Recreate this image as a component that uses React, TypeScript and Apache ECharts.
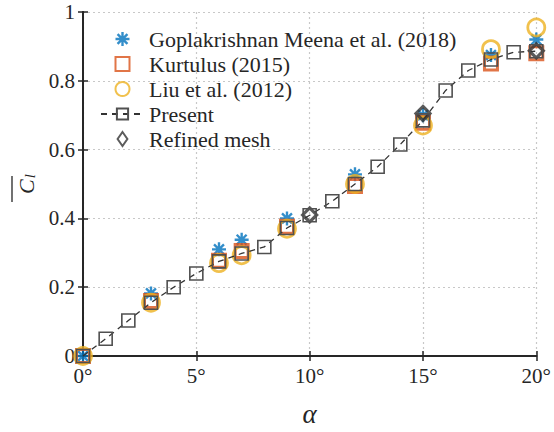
import React, { useEffect, useRef } from "react";
import * as echarts from "echarts";

// Angle of attack (degrees) for the present simulations
const presentAlpha = [0, 1, 2, 3, 4, 5, 6, 7, 8, 9, 10, 11, 12, 13, 14, 15, 16, 17, 18, 19, 20];
const presentCl = [0, 0.05, 0.103, 0.155, 0.2, 0.24, 0.275, 0.298, 0.317, 0.372, 0.409, 0.45, 0.5, 0.55, 0.615, 0.685, 0.772, 0.83, 0.862, 0.883, 0.886];

// Reference data sets
const refAlpha = [0, 3, 6, 7, 9, 12, 15, 18, 20];
const meenaCl = [0, 0.182, 0.31, 0.338, 0.4, 0.528, 0.7, 0.875, 0.92];
const kurtulusCl = [0, 0.16, 0.277, 0.305, 0.376, 0.494, 0.678, 0.85, 0.88];
const liuCl = [0, 0.155, 0.27, 0.293, 0.37, 0.5, 0.67, 0.892, 0.955];

// Refined-mesh check points
const refinedAlpha = [10, 15, 20];
const refinedCl = [0.41, 0.705, 0.887];

const xTicks = [0, 5, 10, 15, 20];

const FONT = "Liberation Serif";
const INK = "#262626";

// Eight-spoke asterisk marker built from four overlapping bars
function asteriskPath(): string {
  const L = 10;
  const W = 1.7;
  let d = "";
  for (const deg of [0, 45, 90, 135]) {
    const a = (deg * Math.PI) / 180;
    const c = Math.cos(a);
    const s = Math.sin(a);
    const pts = [
      [-L, -W],
      [L, -W],
      [L, W],
      [-L, W],
    ].map(([x, y]) => [x * c - y * s, x * s + y * c]);
    d += "M" + pts.map((p) => p[0].toFixed(2) + " " + p[1].toFixed(2)).join(" L") + " Z ";
  }
  return "path://" + d.trim();
}

const squarePath = "path://M-10 -10 L10 -10 L10 10 L-10 10 Z";
const diamondPath = "path://M0 -10 L7 0 L0 10 L-7 0 Z";

const pairs = (xs: number[], ys: number[]) => xs.map((x, i) => [x, ys[i]]);

export default function App() {
  const ref = useRef<HTMLDivElement>(null);

  useEffect(() => {
    if (!ref.current) return;
    const chart = echarts.init(ref.current, undefined, { renderer: "svg" });

    const boxAxisLine = { show: true, lineStyle: { color: INK, width: 2 } };
    const innerTicks = { show: true, inside: true, length: 5, lineStyle: { color: INK, width: 1.5 } };
    const dotted = { show: true, lineStyle: { color: "#c8c8c8", type: [2, 3], width: 1.2 } };

    chart.setOption({
      animation: false,
      backgroundColor: "#ffffff",
      grid: { left: 83, right: 15, top: 12, bottom: 68, containLabel: false },
      legend: {
        orient: "vertical",
        left: 95,
        top: 23,
        itemWidth: 43,
        itemHeight: 14,
        itemGap: 3,
        textStyle: { fontFamily: FONT, fontSize: 22, color: INK, lineHeight: 22 },
      },
      xAxis: [
        {
          type: "value",
          min: 0,
          max: 20,
          interval: 5,
          position: "bottom",
          axisLine: boxAxisLine,
          axisTick: innerTicks,
          splitLine: dotted,
          axisLabel: {
            formatter: (v: number) => (xTicks.includes(v) ? v + "°" : ""),
            fontFamily: FONT,
            fontSize: 21,
            color: INK,
            margin: 9,
          },
          name: "α",
          nameLocation: "middle",
          nameGap: 44,
          nameTextStyle: { fontFamily: FONT, fontSize: 27, fontStyle: "italic", color: INK },
        },
        {
          type: "value",
          min: 0,
          max: 20,
          interval: 5,
          position: "top",
          axisLine: boxAxisLine,
          axisTick: innerTicks,
          axisLabel: { show: false },
          splitLine: { show: false },
        },
      ],
      yAxis: [
        {
          type: "value",
          min: 0,
          max: 1,
          interval: 0.2,
          position: "left",
          axisLine: boxAxisLine,
          axisTick: innerTicks,
          splitLine: dotted,
          axisLabel: { fontFamily: FONT, fontSize: 21, color: INK, margin: 8 },
          name: "{c|C}{s|l}",
          nameLocation: "middle",
          nameRotate: 90,
          nameGap: 45,
          nameTextStyle: {
            fontFamily: FONT,
            color: INK,
            rich: {
              c: { fontFamily: FONT, fontSize: 22, fontStyle: "italic", color: INK, lineHeight: 24, verticalAlign: "bottom" },
              s: { fontFamily: FONT, fontSize: 15, fontStyle: "italic", color: INK, lineHeight: 24, verticalAlign: "bottom", padding: [8, 0, 0, 1] },
            },
          },
        },
        {
          type: "value",
          min: 0,
          max: 1,
          interval: 0.2,
          position: "right",
          axisLine: boxAxisLine,
          axisTick: innerTicks,
          axisLabel: { show: false },
          splitLine: { show: false },
        },
      ],
      graphic: [
        {
          type: "line",
          shape: { x1: 12, y1: 176, x2: 12, y2: 202 },
          style: { stroke: INK, lineWidth: 1.3 },
        },
      ],
      series: [
        {
          name: "Goplakrishnan Meena et al. (2018)",
          type: "scatter",
          clip: false,
          symbol: asteriskPath(),
          symbolSize: 14,
          itemStyle: { color: "#0072BD" },
          data: pairs(refAlpha, meenaCl),
        },
        {
          name: "Kurtulus (2015)",
          type: "scatter",
          clip: false,
          symbol: squarePath,
          symbolSize: 13,
          itemStyle: { color: "rgba(0,0,0,0)", borderColor: "#D95319", borderWidth: 3 },
          data: pairs(refAlpha, kurtulusCl),
        },
        {
          name: "Liu et al. (2012)",
          type: "scatter",
          clip: false,
          symbol: "circle",
          symbolSize: 17,
          itemStyle: { color: "rgba(0,0,0,0)", borderColor: "#EDB120", borderWidth: 2.8 },
          data: pairs(refAlpha, liuCl),
        },
        {
          name: "Present",
          type: "line",
          clip: false,
          symbol: "rect",
          symbolSize: 13,
          showAllSymbol: true,
          lineStyle: { color: "#333333", width: 1.3, type: [6, 5] },
          itemStyle: { color: "rgba(0,0,0,0)", borderColor: "#505050", borderWidth: 1.6 },
          data: pairs(presentAlpha, presentCl),
        },
        {
          name: "Refined mesh",
          type: "scatter",
          clip: false,
          symbol: diamondPath,
          symbolSize: 14,
          itemStyle: { color: "rgba(0,0,0,0)", borderColor: "#333333", borderWidth: 3.2 },
          data: pairs(refinedAlpha, refinedCl),
        },
      ],
    });

    return () => chart.dispose();
  }, []);

  return <div ref={ref} style={{ width: 554, height: 432, position: "absolute", left: 0, top: 0 }} />;
}
